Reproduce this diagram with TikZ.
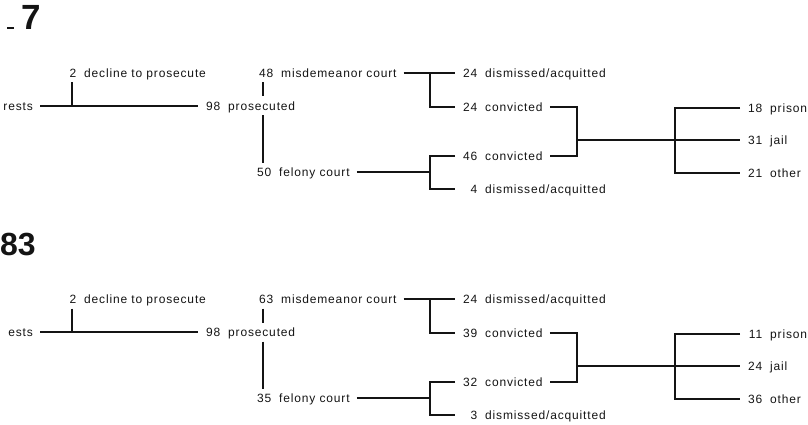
\documentclass[tikz,border=0pt]{standalone}
\usepackage{fontspec}
\setmainfont{Liberation Sans}[LetterSpace=7]
\newfontfamily\titlefont{Liberation Sans}
\definecolor{ink}{HTML}{141414}
\newcommand\lb[2]{\makebox[15pt][r]{#1}\hspace{8pt}#2}
\begin{document}
\begin{tikzpicture}[x=1pt,y=-1pt,
  lbl/.style={font=\fontsize{12}{14}\selectfont, text=ink, anchor=west,
    inner xsep=7pt, inner ysep=5pt, text height=8.6pt, text depth=0pt},
  ln/.style={draw=ink, line width=1.3pt},
  title/.style={font=\titlefont\bfseries\fontsize{35}{40}\selectfont, text=ink,
    inner sep=0pt, anchor=base west}]
\useasboundingbox (0,0) rectangle (808,425);

% titles
\node[title] (t1) at (21,30) {7};
\draw[ink, line width=2pt] (7,28) -- (14,28);
\node[title, font=\titlefont\bfseries\fontsize{32}{36}\selectfont] (t2) at (0,255) {83};

\foreach \pre/\dy/\arr/\na/\nb/\nc/\nd/\ne/\nf/\ng/\nh/\ni/\nj/\nk in
  {a-/0/rests/2/98/48/50/24/24/46/4/18/31/21,
   b-/226/ests/2/98/63/35/24/39/32/3/11/24/36}{
\begin{scope}[shift={(0,\dy)}, name prefix=\pre]
\node[lbl, anchor=east] (arr) at (40,106) {\arr};
\node[lbl] (decl) at (54,73) {\lb{\na}{decline to prosecute}};
\node[lbl] (pros) at (198,106) {\lb{\nb}{prosecuted}};
\node[lbl] (misd) at (251,73) {\lb{\nc}{misdemeanor court}};
\node[lbl] (fel) at (249,172) {\lb{\nd}{felony court}};
\node[lbl] (d1) at (455,73) {\lb{\ne}{dismissed/acquitted}};
\node[lbl] (c1) at (455,107) {\lb{\nf}{convicted}};
\node[lbl] (c2) at (455,156) {\lb{\ng}{convicted}};
\node[lbl] (d2) at (455,189) {\lb{\nh}{dismissed/acquitted}};
\node[lbl] (s1) at (740,108) {\lb{\ni}{prison}};
\node[lbl] (s2) at (740,140) {\lb{\nj}{jail}};
\node[lbl] (s3) at (740,173) {\lb{\nk}{other}};

\coordinate (dj) at (72,106);
\coordinate (vx) at (263,0);
\coordinate (b1) at (430,0);
\coordinate (b2) at (577,0);
\coordinate (b3) at (675,0);

\draw[ln] (arr.east) -- (pros.west);
\draw[ln] (dj |- decl.south) -- (dj);
\draw[ln] (vx |- misd.south) -- (vx |- pros.north);
\draw[ln] (vx |- pros.south) -- (vx |- fel.north);
\draw[ln] (misd.east) -- (d1.west);
\draw[ln] (b1 |- misd.east) |- (c1.west);
\draw[ln] (fel.east) -- (b1 |- fel.east);
\draw[ln] (c2.west) -| (b1 |- d2.west) -- (d2.west);
\draw[ln] (c1.east) -| (b2 |- c2.east) -- (c2.east);
\draw[ln] (b2 |- s2.west) -- (s2.west);
\draw[ln] (s1.west) -| (b3 |- s3.west) -- (s3.west);
\end{scope}}
\end{tikzpicture}
\end{document}
